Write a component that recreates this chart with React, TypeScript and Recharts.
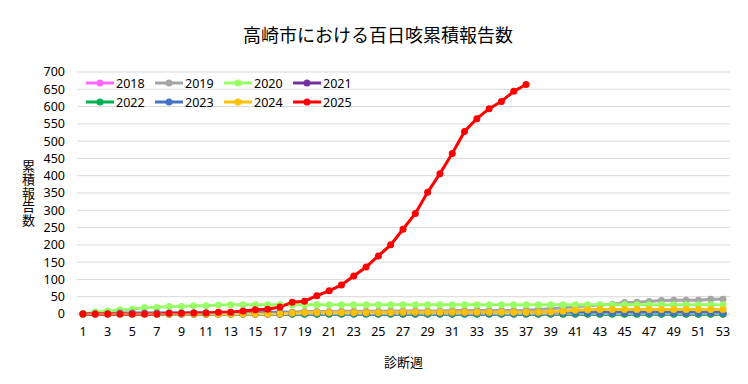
import { CartesianGrid, Label, Legend, Line, LineChart, XAxis, YAxis } from 'recharts';

const weeks = [
  1, 2, 3, 4, 5, 6, 7, 8, 9, 10, 11, 12, 13, 14, 15, 16, 17, 18, 19, 20, 21, 22, 23, 24, 25, 26, 27,
  28, 29, 30, 31, 32, 33, 34, 35, 36, 37, 38, 39, 40, 41, 42, 43, 44, 45, 46, 47, 48, 49, 50, 51, 52, 53,
];

const y2018 = [
  0, 0, 0, 0, 0, 0, 0, 0, 0, 0, 0, 0, 0, 0, 0, 0, 0, 0, 0, 0, 0, 0, 0, 0, 0, 0, 0,
  0, 0, 0, 0, 0, 0, 0, 0, 0, 0, 0, 0, 0, 0, 0, 0, 0, 0, 0, 0, 0, 0, 0, 0, 0, 0,
];
const y2019 = [
  0, 0, 0, 1, 1, 1, 2, 2, 2, 3, 3, 3, 4, 4, 5, 5, 6, 6, 7, 7, 7, 8, 8, 8, 8, 9, 9,
  9, 9, 9, 10, 10, 10, 10, 10, 10, 11, 13, 15, 18, 21, 24, 26, 28, 33, 34, 36, 39, 40, 40, 40, 43, 43,
];
const y2020 = [
  0, 6, 9, 12, 14, 19, 19, 22, 22, 24, 24, 26, 27, 27, 27, 27, 27, 27, 27, 27, 27, 27, 27, 27, 27, 27, 27,
  27, 27, 27, 27, 27, 27, 27, 27, 27, 27, 27, 27, 27, 27, 27, 27, 27, 27, 27, 27, 27, 27, 27, 27, 27, 27,
];
const y2021 = [
  0, 0, 0, 0, 0, 0, 0, 0, 0, 0, 0, 0, 0, 0, 0, 0, 0, 0, 0, 0, 0, 0, 0, 0, 0, 0, 0,
  0, 0, 0, 0, 0, 0, 0, 0, 0, 0, 0, 0, 0, 0, 0, 0, 0, 0, 0, 0, 0, 0, 0, 0, 0, 0,
];
const y2022 = [
  0, 0, 0, 0, 0, 0, 0, 0, 0, 0, 0, 0, 0, 0, 0, 0, 0, 0, 0, 0, 0, 0, 0, 0, 0, 0, 0,
  0, 0, 0, 0, 0, 0, 0, 0, 0, 0, 0, 0, 0, 0, 0, 0, 0, 0, 0, 0, 0, 0, 0, 0, 0, 0,
];
const y2023 = [
  0, 0, 1, 3, 3, 3, 3, 3, 3, 3, 3, 3, 3, 3, 3, 3, 3, 3, 3, 3, 3, 3, 3, 3, 3, 3, 3,
  3, 3, 3, 3, 3, 3, 3, 3, 3, 3, 3, 3, 4, 4, 4, 4, 4, 4, 4, 4, 4, 4, 4, 4, 4, 4,
];
const y2024 = [
  0, 0, 0, 0, 0, 0, 0, 0, 0, 0, 0, 0, 0, 0, 0, 0, 1, 3, 4, 4, 4, 4, 4, 4, 4, 4, 5,
  5, 5, 5, 5, 5, 5, 5, 5, 5, 5, 5, 6, 8, 11, 12, 13, 13, 13, 13, 13, 13, 13, 13, 13, 13, 13,
];
const y2025 = [
  0, 0, 0, 0, 0, 0, 0, 2, 2, 3, 3, 5, 5, 9, 12, 14, 20, 34, 37, 53, 67, 84, 110, 136, 168, 200, 245,
  291, 352, 406, 464, 528, 565, 594, 615, 644, 664,
];

const yTicks = [0, 50, 100, 150, 200, 250, 300, 350, 400, 450, 500, 550, 600, 650, 700];

const seriesList = [
  { key: '2018', values: y2018, color: '#FF66FF' },
  { key: '2019', values: y2019, color: '#A5A5A5' },
  { key: '2020', values: y2020, color: '#99FF66' },
  { key: '2021', values: y2021, color: '#7030A0' },
  { key: '2022', values: y2022, color: '#00B050' },
  { key: '2023', values: y2023, color: '#4472C4' },
  { key: '2024', values: y2024, color: '#FFC000' },
  { key: '2025', values: y2025, color: '#FF0000' },
];

const data = weeks.map((w, i) => {
  const row: Record<string, number | null> = { week: w };
  seriesList.forEach((s) => {
    row[s.key] = i < s.values.length ? s.values[i] : null;
  });
  return row;
});

const FONT = '"Noto Sans", "Noto Sans CJK JP", sans-serif';

// legend sits inside the plot; its measured height (35px) is taken off margin.top
const LegendBox = ({ payload }: any) => (
  <div style={{ display: 'grid', gridTemplateColumns: 'repeat(4, 69px)', rowGap: 3, fontFamily: FONT }}>
    {(payload || []).map((p: any) => (
      <div key={p.value} style={{ display: 'flex', alignItems: 'center', height: 16, fontSize: 12.5, color: '#000' }}>
        <svg width={28} height={10} style={{ marginRight: 2 }}>
          <line x1={0} y1={5} x2={28} y2={5} stroke={p.color} strokeWidth={3} />
          <circle cx={14} cy={5} r={3.5} fill={p.color} />
        </svg>
        {p.value}
      </div>
    ))}
  </div>
);

// stacked upright characters, one text in vertical writing mode
const VerticalLabel = ({ viewBox }: any) => {
  const cy = viewBox.y + viewBox.height / 2;
  return (
    <text
      x={28}
      y={cy}
      textAnchor="middle"
      fontSize={13}
      fill="#000"
      fontFamily={FONT}
      letterSpacing={0.5}
      style={{ writingMode: 'vertical-rl', textOrientation: 'upright' } as any}
    >
      累積報告数
    </text>
  );
};

export default function App() {
  return (
    <div style={{ position: 'absolute', left: 0, top: 0, width: 748, height: 384, background: '#fff', fontFamily: FONT }}>
      <div style={{ position: 'absolute', top: 21, left: 0, width: 756, textAlign: 'center', fontSize: 18, color: '#000' }}>
        高崎市における百日咳累積報告数
      </div>
      <LineChart width={748} height={384} data={data} margin={{ top: 37, right: 18, bottom: 40, left: 0 }}>
        <CartesianGrid vertical={false} stroke="#d9d9d9" />
        <XAxis
          dataKey="week"
          interval={1}
          padding={{ left: 6, right: 7 }}
          tickLine={false}
          axisLine={{ stroke: '#d9d9d9' }}
          tick={{ fontSize: 12.5, fill: '#000', fontFamily: FONT }}
          tickMargin={7}
        >
          <Label value="診断週" position="bottom" offset={14} fontSize={13} fill="#000" fontFamily={FONT} />
        </XAxis>
        <YAxis
          width={77}
          domain={[0, 700]}
          ticks={yTicks}
          interval={0}
          tickLine={false}
          axisLine={false}
          tickMargin={6}
          tick={{ fontSize: 12.5, fill: '#000', fontFamily: FONT }}
        >
          <Label content={VerticalLabel} />
        </YAxis>
        <Legend
          verticalAlign="top"
          align="left"
          content={LegendBox}
          wrapperStyle={{ left: 86, top: 75, width: 290 }}
        />
        {seriesList.map((s) => (
          <Line
            key={s.key}
            dataKey={s.key}
            stroke={s.color}
            strokeWidth={3}
            dot={{ r: 3.5, fill: s.color, stroke: s.color, strokeWidth: 0 }}
            activeDot={false}
            isAnimationActive={false}
            connectNulls={false}
          />
        ))}
      </LineChart>
    </div>
  );
}
